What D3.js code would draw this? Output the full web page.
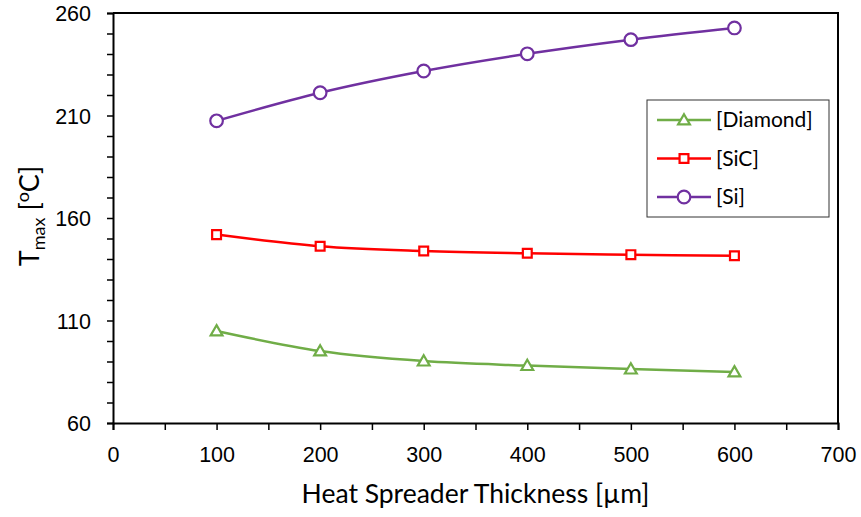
<!DOCTYPE html>
<html>
<head>
<meta charset="utf-8">
<script src="https://cdn.jsdelivr.net/npm/d3@7"></script>
<style>
  body { margin: 0; background: #fff; }
  svg { display: block; font-family: Lato, "Open Sans", sans-serif; }
</style>
</head>
<body>
<svg id="svg" width="861" height="517"></svg>
<script>
(function() {
    'use strict';

    // 데이터: 두께 (µm)
    var thickness = [100, 200, 300, 400, 500, 600];
    var diamondValues = [104.9, 95.1, 90.2, 88.0, 86.3, 84.9];
    var sicValues = [151.9, 146.2, 143.9, 142.8, 142.1, 141.6];
    var siValues = [207.4, 221.1, 231.7, 240.1, 247.0, 252.7];
    var seriesNames = ['[Diamond]', '[SiC]', '[Si]'];
    var xTicks = [0, 100, 200, 300, 400, 500, 600, 700];
    var yTicks = [60, 110, 160, 210, 260];

    var series = [
        { name: seriesNames[0], values: diamondValues, color: '#70AD47', marker: 'triangle' },
        { name: seriesNames[1], values: sicValues, color: '#FF0000', marker: 'square' },
        { name: seriesNames[2], values: siValues, color: '#7030A0', marker: 'circle' }
    ];

    var svg = d3.select('#svg');
    var margin = { top: 13, right: 23, bottom: 94, left: 113 };
    var width = 861 - margin.left - margin.right;
    var height = 517 - margin.top - margin.bottom;

    var g = svg.append('g')
        .attr('transform', 'translate(' + [margin.left, margin.top] + ')');

    var x = d3.scaleLinear().domain([0, 700]).range([0, width]);
    var y = d3.scaleLinear().domain([60, 260]).range([height, 0]);

    // 축 (작은 눈금 포함)
    var xAxis = g.append('g')
        .attr('transform', 'translate(0,' + height + ')')
        .call(d3.axisBottom(x).tickValues(d3.range(0, 701, 50)).tickSize(7)
            .tickFormat(function (d) { return xTicks.indexOf(d) >= 0 ? d : ''; }));
    xAxis.selectAll('text').attr('font-size', 21.5).attr('fill', '#000').attr('y', 39).attr('dy', 0);

    var yAxis = g.append('g')
        .call(d3.axisLeft(y).tickValues(d3.range(60, 261, 10)).tickSize(6)
            .tickFormat(function (d) { return yTicks.indexOf(d) >= 0 ? d : ''; }));
    yAxis.selectAll('text').attr('font-size', 21.5).attr('fill', '#000').attr('x', -22).attr('dy', '0.35em');

    [xAxis, yAxis].forEach(function (a) {
        a.select('.domain').attr('stroke', '#000').attr('stroke-width', 2);
        a.selectAll('.tick line').attr('stroke', '#000').attr('stroke-width', 1.5);
    });

    // 위, 오른쪽 테두리
    g.append('path')
        .attr('d', 'M0,0H' + width + 'V' + height)
        .attr('fill', 'none')
        .attr('stroke', '#000')
        .attr('stroke-width', 2);

    var line = d3.line()
        .x(function (d) { return x(d[0]); })
        .y(function (d) { return y(d[1]); })
        .curve(d3.curveCatmullRom.alpha(0));

    var symbols = {
        triangle: d3.symbol().type(d3.symbolTriangle2).size(100),
        square: d3.symbol().type(d3.symbolSquare2).size(100),
        circle: d3.symbol().type(d3.symbolCircle).size(125)
    };

    series.forEach(function (s) {
        var pts = thickness.map(function (t, i) { return [t, s.values[i]]; });
        g.append('path')
            .datum(pts)
            .attr('d', line)
            .attr('fill', 'none')
            .attr('stroke', s.color)
            .attr('stroke-width', 2.5);

        g.selectAll(null)
            .data(pts)
            .enter()
            .append('path')
            .attr('d', symbols[s.marker])
            .attr('transform', function (d) {
                var dy = s.marker === 'triangle' ? 1 : 0;
                return 'translate(' + [x(d[0]), y(d[1]) + dy] + ')';
            })
            .attr('fill', '#fff')
            .attr('stroke', s.color)
            .attr('stroke-width', 2.2);
    });

    // 범례
    var legend = svg.append('g').attr('transform', 'translate(647,100)');
    legend.append('rect')
        .attr('width', 182)
        .attr('height', 117)
        .attr('fill', '#fff')
        .attr('stroke', '#333')
        .attr('stroke-width', 1);

    var item = legend.selectAll('.item')
        .data(series)
        .enter()
        .append('g')
        .attr('transform', function (d, i) { return 'translate(0,' + (20 + i * 38.5) + ')'; });

    item.append('line')
        .attr('x1', 10).attr('x2', 64)
        .attr('stroke', function (d) { return d.color; })
        .attr('stroke-width', 2.5);
    item.append('path')
        .attr('d', function (d) { return symbols[d.marker](); })
        .attr('transform', function (d) { return 'translate(37,' + (d.marker === 'triangle' ? 1 : 0) + ')'; })
        .attr('fill', '#fff')
        .attr('stroke', function (d) { return d.color; })
        .attr('stroke-width', 2.2);
    item.append('text')
        .attr('x', 69)
        .attr('dy', '0.35em')
        .attr('font-size', 21)
        .text(function (d) { return d.name; });

    // 축 제목
    svg.append('text')
        .attr('x', margin.left + width / 2)
        .attr('y', 503)
        .attr('text-anchor', 'middle')
        .attr('font-size', 26.5)
        .text('Heat Spreader Thickness [µm]');

    var yTitle = svg.append('text')
        .attr('transform', 'translate(39,216) rotate(-90)')
        .attr('text-anchor', 'middle')
        .attr('font-size', 27);
    yTitle.append('tspan').text('T');
    yTitle.append('tspan').attr('font-size', 18).attr('dy', 6).text('max');
    yTitle.append('tspan').attr('dy', -6).text(' [');
    yTitle.append('tspan').attr('font-size', 18).attr('dy', -10).text('o');
    yTitle.append('tspan').attr('dy', 10).text('C]');
})();
</script>
</body>
</html>
